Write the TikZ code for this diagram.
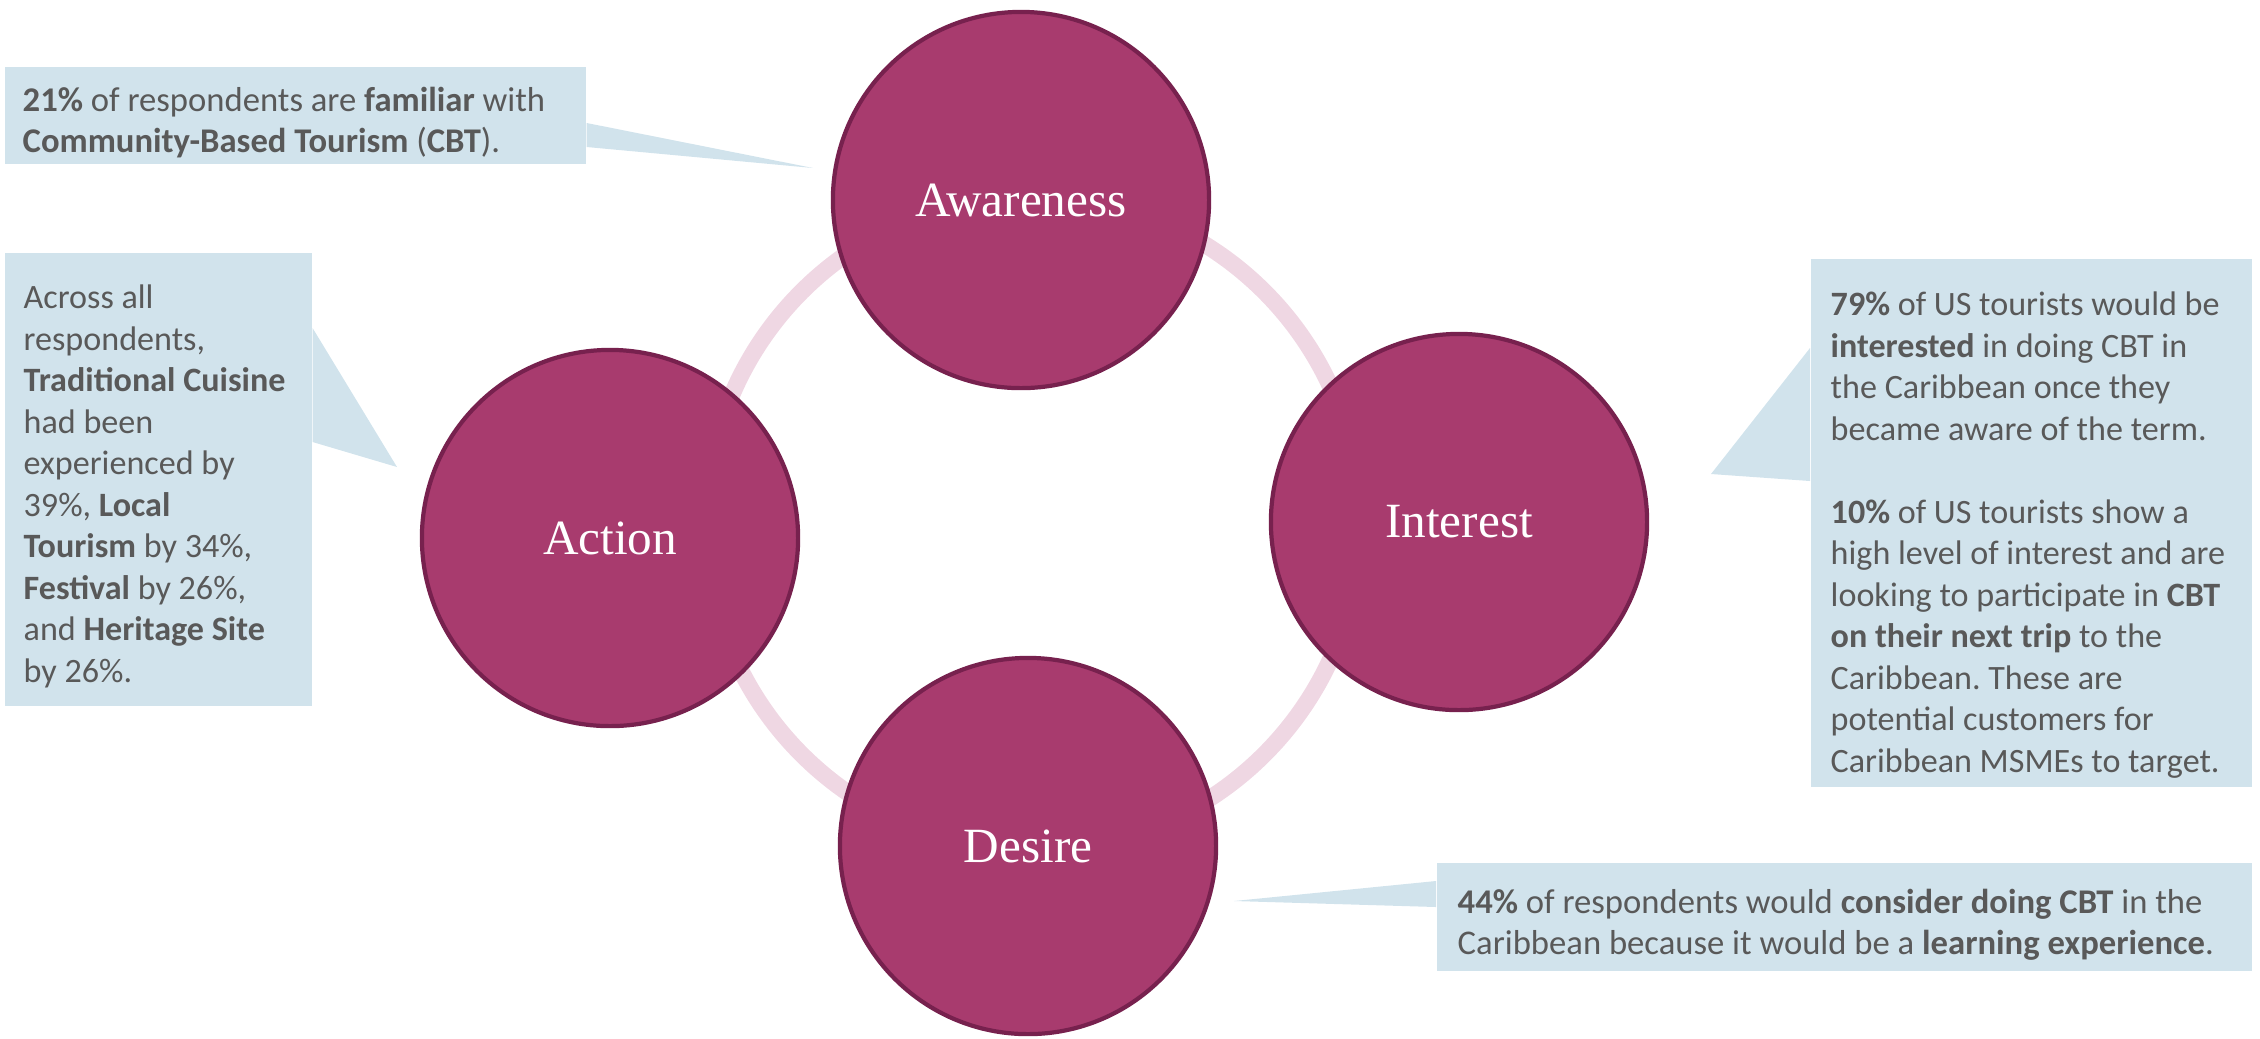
\documentclass[tikz,border=0pt]{standalone}
\usepackage{fontspec}
\setmainfont{Carlito}
\newfontfamily\stagefont{Liberation Serif}
\frenchspacing
\definecolor{stagefill}{HTML}{A83B6E}
\definecolor{stageedge}{HTML}{77214E}
\definecolor{ringpink}{HTML}{EFD7E3}
\definecolor{notefill}{HTML}{D1E3EC}
\definecolor{notegray}{HTML}{595959}
\tikzset{
  stage/.style={circle, fill=stagefill, draw=stageedge, line width=1.2pt, minimum size=3.76cm, text=white, font=\stagefont\fontsize{14}{16}\selectfont},
  cycle ring/.style={draw=ringpink, line width=4.8pt},
  notebox/.style={fill=notefill, anchor=north west, inner sep=0pt},
  notetip/.style={fill=notefill},
  notetext/.style={text=notegray, align=left, inner sep=0pt, anchor=base west, font=\fontsize{9.7}{11.8}\selectfont},
  smallnote/.style={notetext, font=\fontsize{9.85}{11.4}\selectfont}
}
\begin{document}
\begin{tikzpicture}[x=0.01cm, y=-0.01cm]
\useasboundingbox (0,0) rectangle (2260,1038);
\draw[cycle ring] (1033,523) circle (3.27cm);
\node[stage] at (1021,200) (aw) {Awareness};
\node[stage] at (1459,522) (in) {Interest};
\node[stage] at (1028,846) (de) {Desire};
\node[stage] at (610,538) (ac) {Action};

\node[notebox, minimum width=5.81cm, minimum height=0.97cm] at (4,66) (awbox) {};
\coordinate (awtip) at (813,168);
\fill[notetip] (awbox.east |- 0,123) -- (awtip) -- (awbox.east |- 0,147) -- cycle;
\node[smallnote] at (22,152) (awtext) {\textbf{21\%} of respondents are \textbf{familiar} with\\\textbf{Community-Based Tourism} (\textbf{CBT}).};

\node[notebox, minimum width=3.07cm, minimum height=4.53cm] at (4,252) (acbox) {};
\coordinate (actip) at (397,467);
\fill[notetip] (acbox.east |- 0,328) -- (actip) -- (acbox.east |- 0,442) -- cycle;
\node[notetext] at (23,682) (actext) {Across all\\respondents,\\\textbf{Traditional Cuisine}\\had been\\experienced by\\39\%, \textbf{Local}\\\textbf{Tourism} by 34\%,\\\textbf{Festival} by 26\%,\\and \textbf{Heritage Site}\\by 26\%.};

\node[notebox, minimum width=4.41cm, minimum height=5.28cm] at (1810,258) (inbox) {};
\coordinate (intip) at (1711,474);
\fill[notetip] (inbox.west |- 0,348) -- (intip) -- (inbox.west |- 0,481) -- cycle;
\node[notetext] at (1830,772) (intext) {\textbf{79\%} of US tourists would be\\\textbf{interested} in doing CBT in\\the Caribbean once they\\became aware of the term.\\[11.8pt]\textbf{10\%} of US tourists show a\\high level of interest and are\\looking to participate in \textbf{CBT}\\\textbf{on their next trip} to the\\Caribbean. These are\\potential customers for\\Caribbean MSMEs to target.};

\node[notebox, minimum width=8.15cm, minimum height=1.08cm] at (1436,862) (debox) {};
\coordinate (detip) at (1234,901);
\fill[notetip] (debox.west |- 0,881) -- (detip) -- (debox.west |- 0,907) -- cycle;
\node[smallnote] at (1457,954) (detext) {\textbf{44\%} of respondents would \textbf{consider doing CBT} in the\\Caribbean because it would be a \textbf{learning experience}.};
\end{tikzpicture}
\end{document}
